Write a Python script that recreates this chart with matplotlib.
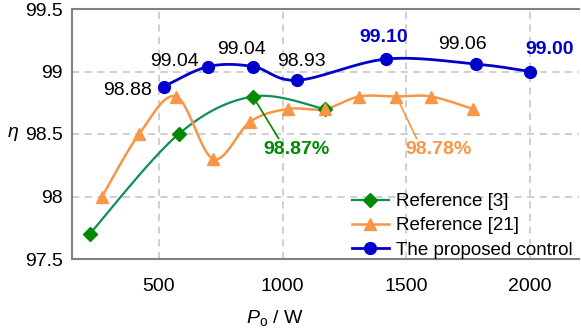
import numpy as np
import matplotlib
matplotlib.use("Agg")
import matplotlib.pyplot as plt

plt.rcParams['font.family'] = ['Liberation Sans', 'DejaVu Sans']
plt.rcParams['mathtext.fontset'] = 'custom'
plt.rcParams['mathtext.rm'] = 'Liberation Sans'
plt.rcParams['mathtext.it'] = 'Liberation Sans:italic'

# data
ref3_p = [220, 580, 880, 1170]
ref3_eta = [97.7, 98.5, 98.8, 98.7]
ref21_p = [270, 420, 570, 720, 870, 1020, 1170, 1310, 1460, 1600, 1770]
ref21_eta = [98.0, 98.5, 98.8, 98.3, 98.6, 98.7, 98.7, 98.8, 98.8, 98.8, 98.7]
prop_p = [520, 700, 880, 1060, 1420, 1780, 2000]
prop_eta = [98.88, 99.04, 99.04, 98.93, 99.10, 99.06, 99.00]
prop_labels = ["98.88", "99.04", "99.04", "98.93", "99.10", "99.06", "99.00"]
x_ticks = [500, 1000, 1500, 2000]
y_ticks = [97.5, 98, 98.5, 99, 99.5]
y_ticklabels = ["97.5", "98", "98.5", "99", "99.5"]

XLIM = (150, 2200)
YLIM = (97.5, 99.5)
W, H = 581, 333
font_size = 14

blue = '#0000cc'
green_line = '#0f8f55'
green_mark = '#008a00'
orange = '#f79646'


def smooth(xs, ys, sx, sy, n=30):
    # Catmull-Rom curve in screen-like units (Excel style smoothing)
    pts = np.column_stack([np.asarray(xs, float) * sx, np.asarray(ys, float) * sy])
    pts = np.vstack([pts[0], pts, pts[-1]])
    out = []
    t = np.linspace(0, 1, n)[:, None]
    for i in range(1, len(pts) - 2):
        p0, p1, p2, p3 = pts[i - 1], pts[i], pts[i + 1], pts[i + 2]
        b1 = p1 + (p2 - p0) / 6
        b2 = p2 - (p3 - p1) / 6
        seg = ((1 - t) ** 3) * p1 + 3 * ((1 - t) ** 2) * t * b1 + 3 * (1 - t) * t ** 2 * b2 + t ** 3 * p2
        out.append(seg)
    out = np.vstack(out)
    return out[:, 0] / sx, out[:, 1] / sy


fig = plt.figure(figsize=(W / 100, H / 100), dpi=100)
ax = fig.add_axes([72.4 / W, 74 / H, 507 / W, 250 / H])
ax.set_xlim(*XLIM)
ax.set_ylim(*YLIM)

# pixel scale factors for smoothing
sx = 507 / (XLIM[1] - XLIM[0])
sy = 250 / (YLIM[1] - YLIM[0])

gx, gy = smooth(ref3_p, ref3_eta, sx, sy)
ax.plot(gx, gy, color=green_line, lw=1.6, zorder=3)
ax.plot(ref3_p, ref3_eta, ls='none', marker='D', ms=7, color=green_mark, zorder=4)

ox, oy = smooth(ref21_p, ref21_eta, sx, sy)
ax.plot(ox, oy, color=orange, lw=1.8, zorder=3)
ax.plot(ref21_p, ref21_eta, ls='none', marker='^', ms=9, color=orange, zorder=4)

bx, by = smooth(prop_p, prop_eta, sx, sy)
ax.plot(bx, by, color=blue, lw=2, zorder=5)
ax.plot(prop_p, prop_eta, ls='none', marker='o', ms=8.5, color=blue, zorder=6)

# legend proxies
ax.plot([], [], color=green_line, lw=1.6, marker='D', ms=7, mfc=green_mark, mec=green_mark, label='Reference [3]')
ax.plot([], [], color=orange, lw=1.8, marker='^', ms=9, label='Reference [21]')
ax.plot([], [], color=blue, lw=2, marker='o', ms=8.5, label='The proposed control')

# data labels on the proposed curve (offsets in pixels)
offsets = [(-36, -4), (-34, 5), (-11, 17), (4, 19), (-3, 21), (-13, 19.5), (20, 22)]
for i, (p, e) in enumerate(zip(prop_p, prop_eta)):
    bold = prop_labels[i] in ("99.10", "99.00")
    ax.annotate(prop_labels[i], (p, e), xytext=offsets[i], textcoords='offset pixels',
                ha='center', va='center', fontsize=font_size,
                color=blue if bold else 'black', fontweight='bold' if bold else 'normal', zorder=7)

ax.annotate('98.87%', xy=(880, 98.8), xytext=(297, H - 150), textcoords='figure pixels',
            ha='center', va='center', fontsize=font_size, fontweight='bold', color=green_mark,
            arrowprops=dict(arrowstyle='-', color=green_mark, lw=1.2, shrinkA=0, shrinkB=0,
                            relpos=(0.25, 1.0)))
ax.annotate('98.78%', xy=(1460, 98.8), xytext=(438, H - 150), textcoords='figure pixels',
            ha='center', va='center', fontsize=font_size, fontweight='bold', color=orange,
            arrowprops=dict(arrowstyle='-', color=orange, lw=1.2, shrinkA=0, shrinkB=0,
                            relpos=(0.2, 1.0)))

ax.set_xticks(x_ticks)
ax.set_xticklabels([str(v) for v in x_ticks], fontsize=font_size)
ax.set_yticks(y_ticks)
ax.set_yticklabels(y_ticklabels, fontsize=font_size)
ax.tick_params(axis='x', length=0, pad=13.5)
ax.tick_params(axis='y', length=0, pad=7)
ax.grid(True, ls=(0, (4, 3)), color='#cccccc', lw=1.3)
ax.set_axisbelow(True)
for s in ['left', 'top', 'bottom']:
    ax.spines[s].set_color('#808080')
    ax.spines[s].set_linewidth(1.5)
ax.spines['right'].set_visible(False)

ax.set_xlabel(r'$P_\mathrm{o}$ / W', fontsize=font_size)
ax.xaxis.set_label_coords((275 - 72.4) / 507, -(318 - 259) / 250, transform=ax.transAxes)
ax.xaxis.label.set_va('center')
fig.text(13 / W, 1 - 134 / H, r'$\eta$', fontsize=font_size, ha='center', va='center')

ax.legend(loc='upper left', bbox_to_anchor=(352 / W, 1 - 193 / H),
          bbox_transform=fig.transFigure, frameon=False, fontsize=13.5,
          handlelength=1.95, handletextpad=0.4, labelspacing=0.38, borderpad=0,
          borderaxespad=0)

fig.savefig('out.png', dpi=100)
